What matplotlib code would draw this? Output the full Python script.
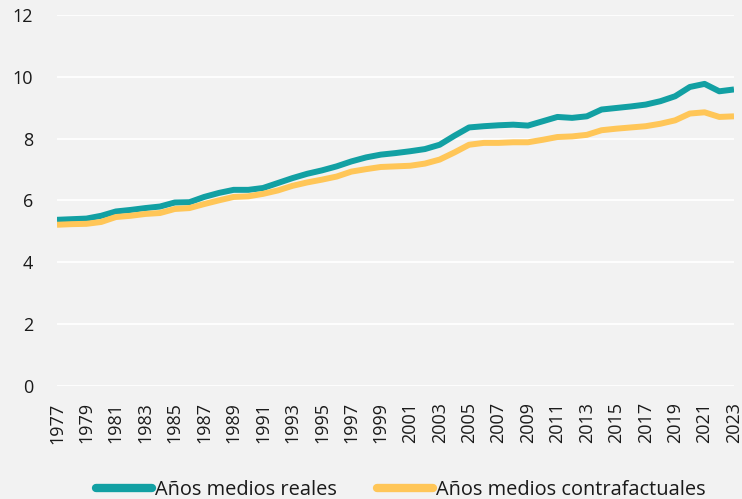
import matplotlib
matplotlib.use("Agg")
import matplotlib.pyplot as plt

years = list(range(1977, 2024))
reales = [5.37, 5.39, 5.41, 5.50, 5.64, 5.69, 5.75, 5.80, 5.93, 5.94,
          6.11, 6.24, 6.34, 6.34, 6.40, 6.56, 6.72, 6.86, 6.97, 7.10,
          7.26, 7.39, 7.48, 7.53, 7.59, 7.66, 7.80, 8.09, 8.36, 8.40,
          8.43, 8.45, 8.42, 8.56, 8.70, 8.67, 8.72, 8.94, 8.99, 9.04,
          9.10, 9.21, 9.37, 9.67, 9.77, 9.53, 9.59]
contrafactuales = [5.21, 5.23, 5.24, 5.30, 5.46, 5.50, 5.56, 5.59, 5.72, 5.75,
                   5.88, 6.00, 6.11, 6.13, 6.21, 6.32, 6.47, 6.58, 6.67, 6.77,
                   6.93, 7.01, 7.08, 7.10, 7.12, 7.19, 7.32, 7.55, 7.80, 7.86,
                   7.86, 7.88, 7.88, 7.96, 8.05, 8.07, 8.12, 8.27, 8.32, 8.36,
                   8.40, 8.48, 8.59, 8.81, 8.85, 8.70, 8.72]
tick_years = list(range(1977, 2024, 2))
y_ticks = [0, 2, 4, 6, 8, 10, 12]
labels = ["Años medios reales", "Años medios contrafactuales"]

plt.rcParams['font.family'] = ['Open Sans', 'DejaVu Sans']
bg = "#F2F2F2"
fig = plt.figure(figsize=(7.42, 4.99), dpi=100, facecolor=bg)
ax = fig.add_axes([57/742, 1-385.7/499, (734-57)/742, (385.7-15)/499])
ax.set_facecolor(bg)

ax.plot(years, reales, color="#12A0A3", lw=4.3, label=labels[0], solid_capstyle='butt')
ax.plot(years, contrafactuales, color="#FFC658", lw=4.3, label=labels[1], solid_capstyle='butt')

ax.set_xlim(1977, 2023)
ax.set_ylim(0, 12)
ax.set_yticks(y_ticks)
ax.set_xticks(tick_years)
ax.set_xticklabels([str(y) for y in tick_years], rotation=90)
ax.grid(axis='y', color='white', lw=1.3)
ax.set_axisbelow(True)
for s in ax.spines.values():
    s.set_visible(False)
ax.tick_params(axis='both', length=0, labelsize=13, colors='#1a1a1a')
ax.tick_params(axis='y', pad=17)
ax.tick_params(axis='x', pad=12)

leg = fig.legend(loc='lower center', bbox_to_anchor=(0.54, -0.038), ncol=2, frameon=False,
                 fontsize=14.4, handlelength=2.8, handletextpad=0.15, columnspacing=2.0,
                 labelcolor='#1a1a1a')
for h in leg.get_lines():
    h.set_linewidth(6)
    h.set_solid_capstyle('round')

fig.savefig("out.png", dpi=100, facecolor=bg)
